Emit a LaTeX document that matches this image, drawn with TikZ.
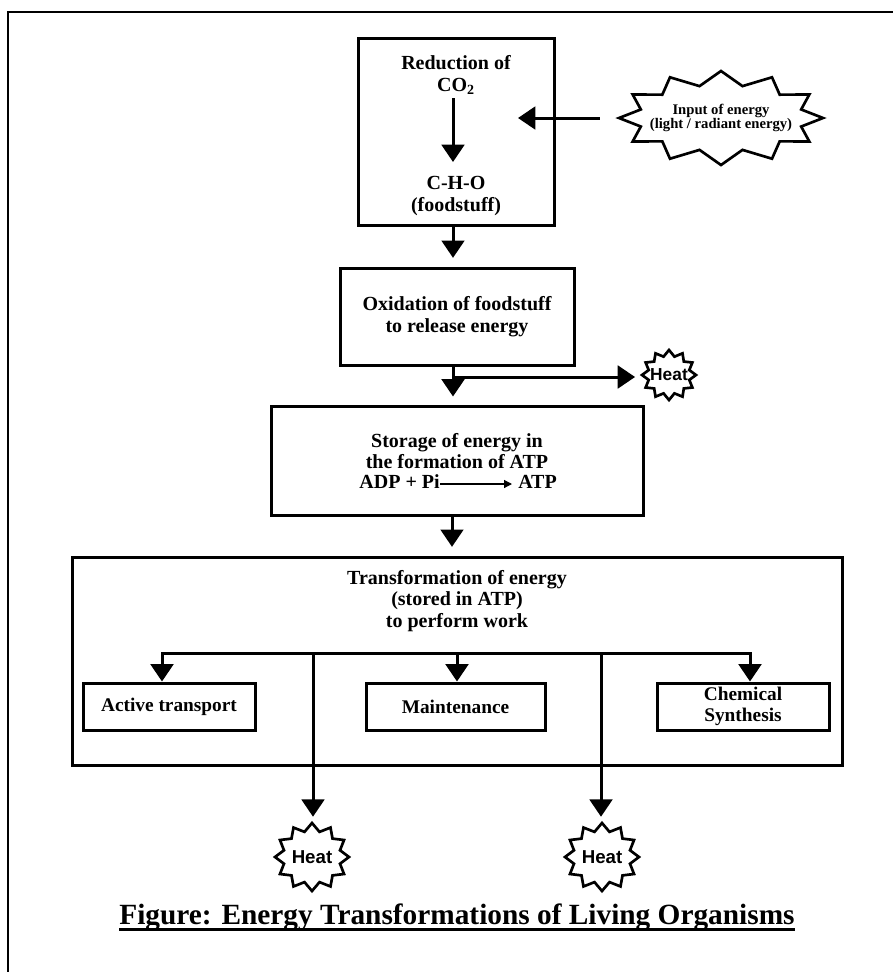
\documentclass[tikz,border=0pt]{standalone}
\usepackage{fontspec}
\setmainfont{Liberation Serif}
\newfontfamily\heatfont{Liberation Sans}
\usetikzlibrary{arrows.meta,shapes.geometric,calc}
\newcommand{\burst}[6]{\draw[burstline] plot[samples at={0,...,23}] ({#1+(#3*(1-mod(\x,2))+#5*mod(\x,2))*cos(15*\x)},{#2+(#4*(1-mod(\x,2))+#6*mod(\x,2))*sin(15*\x)}) -- cycle;}
\begin{document}
\begin{tikzpicture}[x=0.75pt,y=-0.75pt,
  box/.style={draw=black, line width=2.25pt, inner sep=0pt, align=center},
  bigtext/.style={font=\bfseries\fontsize{15}{16}\selectfont, align=center, inner sep=0pt},
  smalltext/.style={font=\bfseries\fontsize{14.5}{16}\selectfont, align=center},
  startext/.style={font=\bfseries\fontsize{11}{10.5}\selectfont, align=center, inner sep=0pt},
  heattext/.style={font=\heatfont\bfseries\fontsize{14}{14}\selectfont, shape=ellipse, inner sep=0pt},
  burstline/.style={draw=black, line width=2pt, line join=miter, fill=white},
  arr/.style={line width=2.25pt, -{Triangle[width=17pt,length=13pt]}},
  thinarr/.style={line width=0.9pt, -{Triangle[width=6pt,length=6pt]}},
  frameline/.style={line width=1.5pt}]
\useasboundingbox (0,0) rectangle (893,972);
% outer frame
\draw[frameline] (8,972) -- (8,12) -- (893,12);

% box 1
\node[box, minimum width=147pt, minimum height=140.25pt] (box1) at (456,131.5) {};
\node[bigtext] (red) at (456,75) {Reduction of\\CO\textsubscript{2}};
\node[bigtext] (cho) at (456,196) {C-H-O\\(foodstuff)};
\coordinate (rs) at (453,98);
\coordinate (re) at (453,162);
\draw[arr] (rs) -- (re);

% input star
\burst{721}{118}{102}{47}{83}{33}
\node[startext, shape=ellipse, minimum width=153pt, minimum height=70.5pt] (instar) at (721,118) {Input of energy\\(light / radiant energy)};
\coordinate (inE) at (518,118);
\draw[arr] ([xshift=-14.25pt]instar.west) -- (inE);

% box 2
\node[box, bigtext, draw, line width=2.25pt, minimum width=175.5pt, minimum height=72.75pt] (box2) at (457,316.5) {Oxidation of foodstuff\\to release energy};
\draw[arr, shorten >=6.5pt] (box1.south -| 453,0) -- (box2.north -| 453,0);

% heat 1
\burst{669}{375}{27}{25}{21}{19}
\node[heattext, font=\heatfont\bfseries\fontsize{13}{13}\selectfont, minimum width=40.5pt, minimum height=37.5pt] (heat1) at (669,375) {Heat};
\coordinate (hb) at (453,377);
\draw[arr, shorten >=5pt] (hb) -- (heat1.west |- hb);

% box 3
\node[box, minimum width=279pt, minimum height=81.75pt] (box3) at (457,460.5) {};
\draw[arr, shorten >=6pt] (box2.south -| 453,0) -- (box3.north -| 453,0);
\node[bigtext] (store) at (457,451) {Storage of energy in\\the formation of ATP};
\node[bigtext, anchor=east] (adp) at (440,482) {ADP + Pi};
\node[bigtext, anchor=west] (atp) at (518,482) {ATP};
\draw[thinarr, shorten >=4.5pt] ([yshift=-1.5pt]adp.east) -- ([yshift=-1.5pt]atp.west);

% box 4
\node[box, minimum width=577.5pt, minimum height=156pt] (box4) at (457,661) {};
\draw[arr, shorten >=6.5pt] (box3.south -| 452,0) -- (box4.north -| 452,0);
\node[bigtext] (trans) at (457,601) {Transformation of energy\\(stored in ATP)\\to perform work};

% small boxes
\node[box, smalltext, minimum width=129pt, minimum height=35.25pt] (act) at (169,706.5) {Active transport};
\node[box, smalltext, minimum width=134.25pt, minimum height=35.25pt] (mnt) at (455.5,706.5) {Maintenance};
\node[box, smalltext, minimum width=129pt, minimum height=35.25pt] (chem) at (743,706.5) {Chemical\\Synthesis};

\coordinate (bus) at (457,653);
\coordinate (busL) at (162,653);
\coordinate (busR) at (750,653);
\coordinate (busH1) at (313,653);
\coordinate (busH2) at (601,653);
\draw[arr, line join=miter] (bus) -- (busL) -- (busL |- act.north);
\draw[arr, line join=miter] (bus) -- (busR) -- (busR |- chem.north);
\draw[arr] (bus) -- (bus |- mnt.north);

% bottom heat
\burst{312}{857}{37}{34}{29}{26}
\node[heattext, minimum width=55.5pt, minimum height=51pt] (heat2) at (312,857) {Heat};
\burst{602}{857}{37}{34}{29}{26}
\node[heattext, minimum width=55.5pt, minimum height=51pt] (heat3) at (602,857) {Heat};
\draw[arr, shorten >=4.5pt] (busH1) -- (busH1 |- heat2.north);
\draw[arr, shorten >=4.5pt] (busH2) -- (busH2 |- heat3.north);

% caption
\node[font=\bfseries\fontsize{22}{24}\selectfont, anchor=base, inner sep=0pt] (cap) at (457,924) {Figure: Energy Transformations of Living Organisms};
\draw[line width=2.25pt] ($(cap.base west)+(0,5)$) -- ($(cap.base east)+(0,5)$);
\end{tikzpicture}
\end{document}
